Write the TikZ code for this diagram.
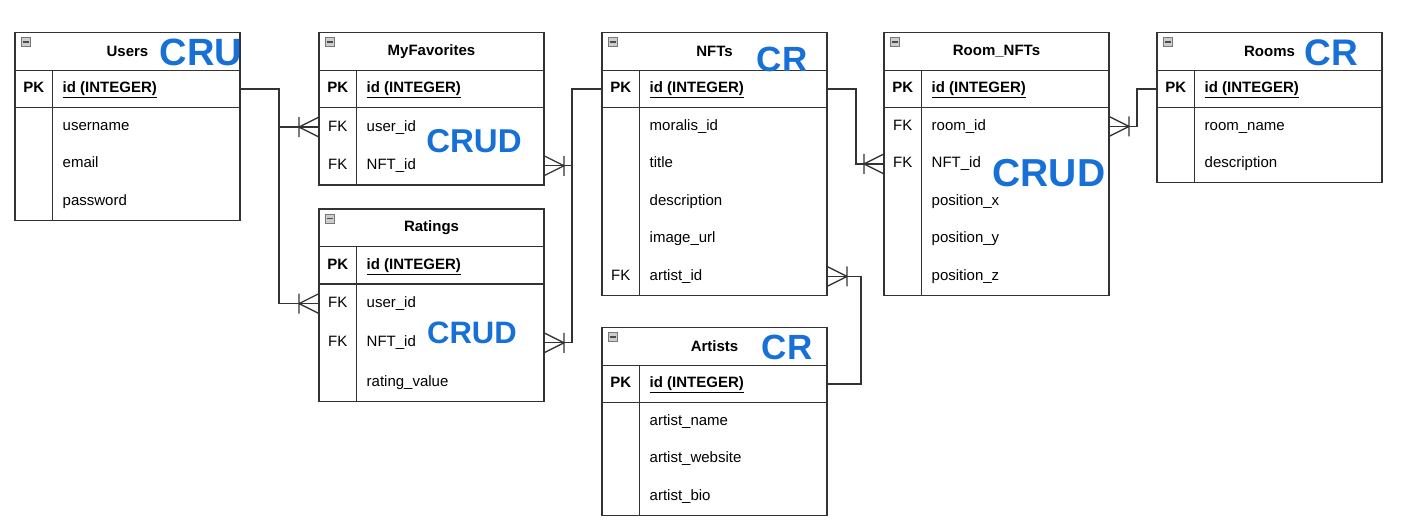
\documentclass[tikz,border=0pt]{standalone}
\usepackage{fontspec}
\setmainfont{Liberation Sans}
\usetikzlibrary{positioning}

\definecolor{linegray}{RGB}{51,51,51}
\definecolor{penblue}{RGB}{22,112,214}
\definecolor{iconfill}{RGB}{205,205,205}
\definecolor{icongray}{RGB}{120,120,120}

\tikzset{
  rowcell/.style={minimum width=225, minimum height=#1, inner sep=0, outer sep=0},
  rowcell/.default=37.5,
  titletext/.style={font=\fontsize{15}{18}\selectfont\bfseries},
  keytext/.style={font=\fontsize{15}{18}\selectfont, text height=11, text depth=3, inner sep=0, anchor=center},
  fieldtext/.style={font=\fontsize{15}{18}\selectfont, text height=11, text depth=3, inner sep=0, anchor=west},
  pkstyle/.style={font=\fontsize{15}{18}\selectfont\bfseries},
  tableline/.style={draw=linegray, line width=1.3},
  link/.style={draw=linegray, line width=1.3},
  iconbox/.style={draw=icongray, fill=iconfill, line width=0.6},
  iconmark/.style={draw=black!70, line width=1.6},
  note/.style={font=\fontsize{#1}{#1}\selectfont\bfseries, text=penblue, inner sep=0},
  note/.default=34,
  onemany/.pic={\draw[link] (0,-10) -- (20,0) -- (0,10) (20,-10) -- (20,10);}
}

\begin{document}
\begin{tikzpicture}[x=1pt, y=-1pt]

  \useasboundingbox (0,0) rectangle (1411,527);

  % tables: name / left / top / title / row height / rows / fields
  \foreach \tab/\x/\y/\title/\h/\n/\rows in {
    users/15/32.7/Users/37.5/3/{/username,/email,/password},
    fav/319/32.7/MyFavorites/38.7/2/{FK/user\_id,FK/NFT\_id},
    rat/319/209/Ratings/39.2/3/{FK/user\_id,FK/NFT\_id,/rating\_value},
    nft/602/32.7/NFTs/37.5/5/{/moralis\_id,/title,/description,/image\_url,FK/artist\_id},
    art/602/327.7/Artists/37.5/3/{/artist\_name,/artist\_website,/artist\_bio},
    rn/884/32.7/Room\_NFTs/37.5/5/{FK/room\_id,FK/NFT\_id,/position\_x,/position\_y,/position\_z},
    room/1157/32.7/Rooms/37.5/2/{/room\_name,/description}}
  {
    \node[rowcell, titletext] (\tab-title) at ({\x+112.5},{\y+18.75}) {\title};
    \node[rowcell] (\tab-id) at ({\x+112.5},{\y+56.25}) {};
    \node[keytext, pkstyle] at ([xshift=18.75]\tab-id.west) {PK};
    \node[fieldtext, pkstyle] at ([xshift=47.5]\tab-id.west) {\underline{id (INTEGER)}};
    \foreach \k/\f [count=\i] in \rows
    {
      \node[rowcell=\h] (\tab-\i) at ({\x+112.5},{\y+75+(\i-0.5)*\h}) {};
      \node[keytext] at ([xshift=18.75]\tab-\i.west) {\k};
      \node[fieldtext] at ([xshift=47.5]\tab-\i.west) {\f};
    }
    \draw[tableline] (\tab-title.north west) rectangle (\tab-\n.south east);
    \draw[tableline] (\tab-title.south west) -- (\tab-title.south east)
      (\tab-id.south west) -- (\tab-id.south east)
      ([xshift=37.5]\tab-title.south west) -- ([xshift=37.5]\tab-\n.south west);
    \draw[iconbox] ([xshift=6,yshift=-5]\tab-title.north west) rectangle ++(9,9);
    \draw[iconmark] ([xshift=7.5,yshift=-9.5]\tab-title.north west) -- ++(6,0);
  }

  % relations
  \draw[link] (users-id.east) -- ++(39,0) coordinate (users-bus) |- (fav-1.west);
  \draw[link] (users-bus) |- (rat-1.west);
  \draw[link] (fav-2.east) -- ++(28,0) coordinate (nft-bus) |- (nft-id.west);
  \draw[link] (rat-2.east) -| (nft-bus);
  \draw[link] (nft-id.east) -- ++(29,0) |- (rn-2.west);
  \draw[link] (nft-5.east) -- ++(34,0) |- (art-id.east);
  \draw[link] (rn-1.east) -- ++(28,0) |- (room-id.west);

  \pic[rotate=180] at (fav-1.west) {onemany};
  \pic[rotate=180] at (rat-1.west) {onemany};
  \pic at (fav-2.east) {onemany};
  \pic at (rat-2.east) {onemany};
  \pic[rotate=180] at (rn-2.west) {onemany};
  \pic at (nft-5.east) {onemany};
  \pic at (rn-1.east) {onemany};

  % handwritten access notes
  \node[note=38] (users-note) at (201,52) {CRU};
  \node[note=33] (fav-note) at (474,141) {CRUD};
  \node[note=31] (rat-note) at (472,333) {CRUD};
  \node[note=35] (nft-note) at (782,59) {CR};
  \node[note=39] (rn-note) at (1049,173) {CRUD};
  \node[note=37] (room-note) at (1331,53) {CR};
  \node[note=35] (art-note) at (787,347) {CR};

\end{tikzpicture}
\end{document}
